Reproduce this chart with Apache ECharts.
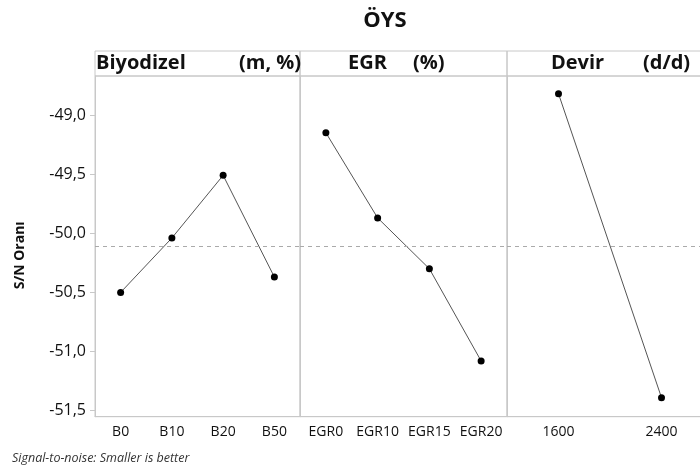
<!DOCTYPE html>
<html>
<head>
<meta charset="utf-8">
<script src="https://cdn.jsdelivr.net/npm/echarts@6/dist/echarts.min.js"></script>
<style>html,body{margin:0;padding:0;background:#fff;}#c{width:700px;height:470px;}</style>
</head>
<body>
<div id="c"></div>
<script>
// ---- data ----
const titleText = 'ÖYS';
const yAxisName = 'S/N Oranı';
const footnote = 'Signal-to-noise: Smaller is better';
const panelTitles = [['Biyodizel', '(m, %)'], ['EGR', '(%)'], ['Devir', '(d/d)']];
const biyodizelCats = ['B0', 'B10', 'B20', 'B50'];
const biyodizelVals = [-50.50, -50.04, -49.51, -50.37];
const egrCats = ['EGR0', 'EGR10', 'EGR15', 'EGR20'];
const egrVals = [-49.15, -49.87, -50.30, -51.08];
const devirCats = ['1600', '2400'];
const devirVals = [-48.82, -51.39];
const grandMean = -50.11;
const yMin = -51.551, yMax = -48.670;

// ---- layout ----
const FONT = 'Open Sans';
const panels = [
  { left: 95, right: 400, cats: biyodizelCats, vals: biyodizelVals },
  { left: 300, right: 193, cats: egrCats, vals: egrVals },
  { left: 507, right: -13, cats: devirCats, vals: devirVals }
];
const gridTop = 76, gridBottomY = 416.7, headerTop = 51;
const lineGray = '#c8c8c8';

const grid = [], xAxis = [], yAxis = [], series = [], graphic = [];
panels.forEach((p, i) => {
  grid.push({ left: p.left, right: p.right, top: gridTop, bottom: 470 - gridBottomY,
    show: true, borderColor: lineGray, borderWidth: 1, containLabel: false,
    outerBoundsMode: 'none' });
  xAxis.push({ type: 'category', gridIndex: i, data: p.cats, boundaryGap: true,
    axisLine: { lineStyle: { color: lineGray } },
    axisTick: { alignWithLabel: true, length: 5, lineStyle: { color: lineGray } },
    axisLabel: { interval: 0, color: '#111', fontFamily: FONT, fontSize: 14, margin: 8 } });
  yAxis.push({ type: 'value', gridIndex: i, min: yMin, max: yMax,
    minInterval: 0.5, maxInterval: 0.5,
    splitLine: { show: false },
    axisLine: { show: true, lineStyle: { color: lineGray } },
    axisTick: { show: i === 0, length: 5, lineStyle: { color: lineGray } },
    axisLabel: { show: i === 0, showMinLabel: false, showMaxLabel: false, color: '#111',
      fontFamily: FONT, fontSize: 16, margin: 9,
      formatter: v => v.toFixed(1).replace('.', ',') },
    name: i === 0 ? yAxisName : '', nameLocation: 'middle', nameGap: 68, nameRotate: 90,
    nameTextStyle: { fontFamily: FONT, fontWeight: 'bold', fontSize: 14, color: '#111',
      padding: [0, 18, 0, 0] } });
  series.push({ type: 'line', xAxisIndex: i, yAxisIndex: i, data: p.vals,
    symbol: 'circle', symbolSize: 7, itemStyle: { color: '#000' },
    lineStyle: { color: '#555', width: 1 }, animation: false,
    markLine: { silent: true, symbol: 'none', label: { show: false },
      lineStyle: { color: '#aaa', type: [4, 4], width: 1 },
      data: [{ yAxis: grandMean }] } });
  const w = 700 - p.left - p.right;
  graphic.push({ type: 'rect', shape: { x: p.left, y: headerTop, width: w, height: gridTop - headerTop },
    style: { fill: 'none', stroke: lineGray, lineWidth: 1 } });
});
// header texts
const headerPos = [[96, 239], [348, 413], [551, 643]];
panelTitles.forEach((t, i) => {
  graphic.push({ type: 'text', x: headerPos[i][0], y: 63,
    style: { text: t[0], font: 'bold 20px "' + FONT + '"', fill: '#111', textVerticalAlign: 'middle' } });
  graphic.push({ type: 'text', x: headerPos[i][1], y: 63,
    style: { text: t[1], font: 'bold 20px "' + FONT + '"', fill: '#111', textVerticalAlign: 'middle' } });
});
graphic.push({ type: 'text', x: 12, y: 458,
  style: { text: footnote, font: 'italic 12.5px "' + FONT + '"', fill: '#333', textVerticalAlign: 'middle' } });

const chart = echarts.init(document.getElementById('c'), null, { renderer: 'canvas' });
chart.setOption({
  animation: false,
  backgroundColor: '#fff',
  title: { text: titleText, left: 380, top: 5, textAlign: 'center',
    textStyle: { fontFamily: FONT, fontWeight: 'bold', fontSize: 22, color: '#111' } },
  grid, xAxis, yAxis, series, graphic
});
</script>
</body>
</html>
